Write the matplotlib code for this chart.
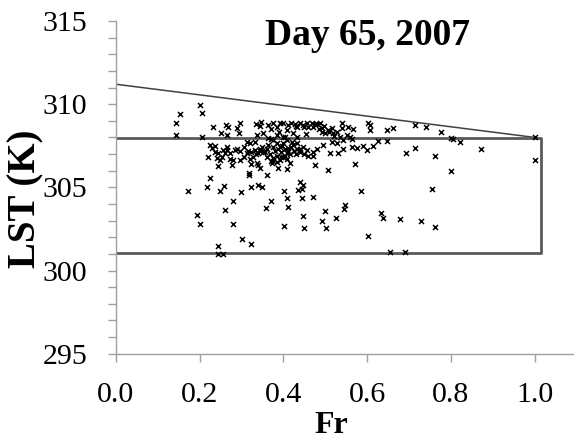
import numpy as np
import matplotlib
matplotlib.use("Agg")
import matplotlib.pyplot as plt
from matplotlib.ticker import MultipleLocator

plt.rcParams["font.family"] = ["Liberation Serif", "DejaVu Serif"]

# Fraktion (Fr) und Landoberflaechentemperatur (K) je Pixel
fr = [
    0.153, 0.205, 0.144, 0.144, 0.207, 0.231, 0.263, 0.269, 0.297, 0.289,
    0.295, 0.251, 0.266, 0.335, 0.346, 0.344, 0.364, 0.370, 0.376, 0.392,
    0.386, 0.400, 0.412, 0.408, 0.418, 0.428, 0.432, 0.440, 0.448, 0.456,
    0.460, 0.468, 0.472, 0.480, 0.488, 0.492, 0.496, 0.454, 0.424, 0.432,
    0.400, 0.384, 0.500, 0.492, 0.507, 0.515, 0.519, 0.527, 0.539, 0.539,
    0.555, 0.567, 0.559, 0.551, 0.535, 0.543, 0.563, 0.603, 0.607, 0.607,
    0.647, 0.661, 0.714, 0.647, 0.627, 0.615, 0.599, 0.591, 0.575, 0.563,
    0.542, 0.527, 0.515, 0.531, 0.511, 0.494, 0.480, 0.472, 0.456, 0.448,
    0.440, 0.432, 0.422, 0.412, 0.408, 0.400, 0.392, 0.408, 0.416, 0.384,
    0.376, 0.372, 0.360, 0.356, 0.344, 0.332, 0.324, 0.313, 0.305, 0.297,
    0.289, 0.313, 0.320, 0.332, 0.336, 0.352, 0.364, 0.376, 0.384, 0.392,
    0.400, 0.408, 0.420, 0.432, 0.364, 0.348, 0.340, 0.328, 0.320, 0.305,
    0.297, 0.281, 0.273, 0.261, 0.257, 0.253, 0.245, 0.241, 0.237, 0.229,
    0.225, 0.221, 0.245, 0.249, 0.265, 0.273, 0.266, 0.237, 0.285, 0.277,
    0.336, 0.344, 0.324, 0.340, 0.317, 0.319, 0.360, 0.388, 0.408, 0.375,
    0.476, 0.507, 0.571, 0.693, 0.714, 0.225, 0.217, 0.172, 0.249, 0.258,
    0.298, 0.281, 0.261, 0.193, 0.201, 0.279, 0.243, 0.245, 0.255, 0.301,
    0.324, 0.324, 0.340, 0.348, 0.370, 0.359, 0.402, 0.408, 0.410, 0.402,
    0.436, 0.440, 0.446, 0.444, 0.444, 0.470, 0.446, 0.450, 0.500, 0.492,
    0.501, 0.526, 0.545, 0.547, 0.585, 0.601, 0.632, 0.637, 0.679, 0.655,
    0.690, 0.200, 0.729, 0.761, 0.755, 0.801, 0.763, 0.871, 0.821, 0.801,
    0.805, 0.776, 0.740, 1.000, 1.000,
    # dichter Kern der Punktwolke
    0.345, 0.352, 0.360, 0.368, 0.375, 0.380, 0.388, 0.395, 0.398, 0.405,
    0.410, 0.415, 0.418, 0.425, 0.430, 0.405, 0.395, 0.370, 0.385, 0.440,
    0.450, 0.460, 0.470, 0.335, 0.315, 0.430, 0.450, 0.475, 0.485, 0.510,
    0.520, 0.390, 0.405, 0.370,
]
lst = [
    309.41, 309.49, 308.89, 308.17, 308.05, 308.65, 308.75, 308.61, 308.89, 308.55,
    308.29, 308.25, 308.15, 308.81, 308.93, 308.69, 308.75, 308.49, 308.85, 308.85,
    308.61, 308.89, 308.75, 308.45, 308.89, 308.81, 308.65, 308.89, 308.75, 308.85,
    308.65, 308.89, 308.65, 308.81, 308.85, 308.55, 308.69, 308.21, 308.25, 308.05,
    308.05, 308.15, 308.25, 308.35, 308.45, 308.55, 308.25, 308.35, 308.89, 308.55,
    308.65, 308.49, 308.05, 308.15, 308.01, 307.85, 307.89, 308.89, 308.75, 308.45,
    308.45, 308.59, 308.75, 307.81, 307.81, 307.49, 307.25, 307.49, 307.35, 307.45,
    307.29, 307.65, 307.75, 307.09, 307.09, 307.55, 307.29, 307.15, 307.25, 307.45,
    307.15, 307.29, 307.55, 307.35, 307.05, 306.84, 306.64, 306.68, 306.44, 306.54,
    306.74, 306.48, 306.84, 307.15, 307.29, 307.25, 307.15, 307.09, 307.45, 307.21,
    307.29, 307.73, 307.65, 307.75, 308.15, 308.25, 307.95, 307.85, 307.65, 307.45,
    307.65, 307.85, 307.75, 307.65, 307.55, 307.45, 307.09, 306.84, 306.68, 306.84,
    306.64, 306.64, 306.68, 307.05, 307.25, 306.84, 307.05, 306.74, 307.15, 307.35,
    307.55, 306.84, 306.28, 306.64, 307.25, 307.05, 307.45, 307.49, 307.25, 306.34,
    306.44, 306.14, 306.40, 306.34, 305.88, 305.76, 305.74, 306.14, 306.08, 306.60,
    306.34, 306.04, 306.40, 307.09, 307.35, 305.58, 305.00, 304.80, 304.80, 305.08,
    304.74, 304.20, 303.64, 303.34, 302.80, 302.80, 301.47, 300.97, 300.97, 301.87,
    301.57, 305.04, 305.14, 305.00, 304.20, 303.74, 304.80, 304.34, 303.84, 302.66,
    304.84, 305.34, 305.14, 304.88, 304.34, 304.40, 303.30, 302.58, 303.60, 302.98,
    302.56, 303.14, 303.68, 303.94, 304.80, 302.07, 303.44, 303.14, 303.08, 301.13,
    301.13, 309.96, 303.00, 302.62, 304.92, 305.96, 306.90, 307.30, 307.72, 307.96,
    307.92, 308.30, 308.62, 308.04, 306.64,
    307.20, 307.10, 307.30, 307.00, 307.40, 307.20, 307.30, 307.10, 307.50, 307.30,
    307.20, 307.00, 307.40, 307.20, 307.00, 306.90, 306.80, 306.60, 306.90, 307.30,
    307.00, 306.90, 306.90, 307.00, 307.20, 308.70, 308.60, 308.80, 308.50, 308.30,
    308.10, 308.30, 308.00, 307.90,
]

# Trockene Kante (schraeg) und Rahmen aus oberer/unterer Grenze
dry_fr = [0.0, 1.0]
dry_lst = [311.2, 308.0]
box_fr = [0.0, 1.016, 1.016, 0.0]
box_lst = [307.95, 307.95, 301.07, 301.07]

fig = plt.figure(figsize=(5.74, 4.41), dpi=100)
ax = fig.add_axes([0.2016, 0.198, 0.803, 0.7544])

ax.plot(dry_fr, dry_lst, color="#404040", lw=1.1, zorder=2)
ax.plot(box_fr, box_lst, color="#5a5a5a", lw=2.0, zorder=2)
ax.plot(fr, lst, linestyle="none", marker="x", markersize=3.6,
        markeredgewidth=1.1, color="black", zorder=3)

ax.set_xlim(0, 1.1)
ax.set_ylim(295, 315)
ax.yaxis.set_major_locator(MultipleLocator(5))
ax.yaxis.set_minor_locator(MultipleLocator(1))
xticks = np.arange(0, 1.01, 0.2)
ax.set_xticks(xticks)
ax.set_xticklabels([f"{v:.1f}" for v in xticks])

for side in ["top", "right"]:
    ax.spines[side].set_visible(False)
for side in ["left", "bottom"]:
    ax.spines[side].set_color("#a0a0a0")
    ax.spines[side].set_linewidth(1.0)

ax.tick_params(which="both", direction="out", length=5.8, width=1.0,
               color="#a0a0a0", labelsize=21.5, pad=14.5)

fig.text(0.640, 0.898, "Day 65, 2007", ha="center", va="baseline",
         fontsize=27, fontweight="bold")
fig.text(0.577, 0.018, "Fr", ha="center", va="baseline",
         fontsize=23, fontweight="bold")
fig.text(0.045, 0.55, "LST (K)", ha="center", va="center", rotation=90,
         fontsize=28, fontweight="bold")

fig.savefig("out.png", dpi=100)
